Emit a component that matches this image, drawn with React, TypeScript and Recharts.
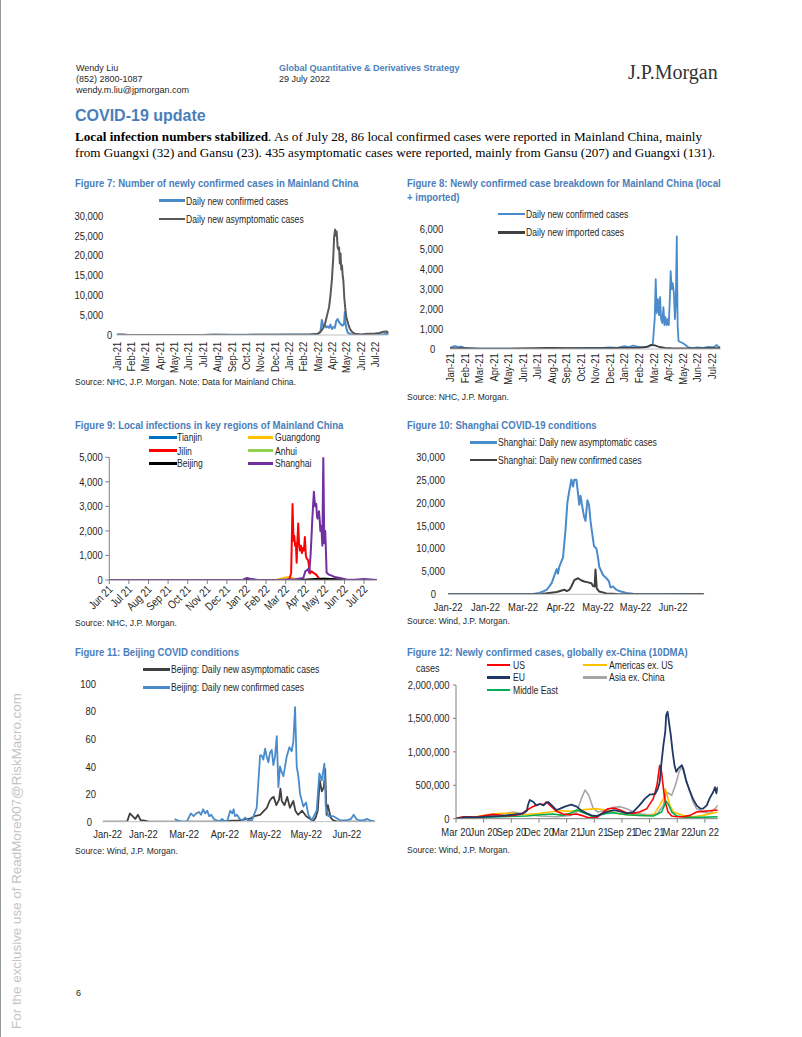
import React from "react";
import { LineChart, Line, XAxis, YAxis } from "recharts";

const SANS = "'Liberation Sans', Arial, Helvetica, sans-serif";
const SERIF = "'Liberation Serif', 'Times New Roman', serif";
const NARROW_SCALE = 0.82; // Arial Narrow look-alike: Liberation Sans squeezed horizontally
const TITLE_BLUE = "#4A7EBB";
const INK = "#1f1f1f";

// ---- shared tick labels ----
const monthTicks2122 = [0, 1, 2, 3, 4, 5, 6, 7, 8, 9, 10, 11, 12, 13, 14, 15, 16, 17, 18];
const monthLabels2122 = ["Jan-21", "Feb-21", "Mar-21", "Apr-21", "May-21", "Jun-21", "Jul-21", "Aug-21", "Sep-21", "Oct-21", "Nov-21", "Dec-21", "Jan-22", "Feb-22", "Mar-22", "Apr-22", "May-22", "Jun-22", "Jul-22"];
const fig9Ticks = [0, 1, 2, 3, 4, 5, 6, 7, 8, 9, 10, 11, 12, 13];
const fig9Labels = ["Jun 21", "Jul 21", "Aug 21", "Sep 21", "Oct 21", "Nov 21", "Dec 21", "Jan 22", "Feb 22", "Mar 22", "Apr 22", "May 22", "Jun 22", "Jul 22"];
const dayTicks = [0, 30, 60, 90, 120, 150, 180];
const dayLabels = ["Jan-22", "Jan-22", "Mar-22", "Apr-22", "May-22", "May-22", "Jun-22"];
const fig12Ticks = [0, 3, 6, 9, 12, 15, 18, 21, 24, 27];
const fig12Labels = ["Mar 20", "Jun 20", "Sep 20", "Dec 20", "Mar 21", "Jun 21", "Sep 21", "Dec 21", "Mar 22", "Jun 22"];

// ---- Figure 7 (x = months since Jan-21) ----
const fig7ConfX = [0, 0.3, 0.6, 1, 2, 3, 4, 5, 6, 6.7, 7, 8, 9, 9.5, 10, 11, 12, 12.5, 13, 13.5, 14, 14.2, 14.3, 14.4, 14.5, 14.6, 14.7, 14.8, 14.9, 15.0, 15.1, 15.2, 15.3, 15.4, 15.5, 15.6, 15.7, 15.8, 15.85, 15.9, 15.95, 16.0, 16.1, 16.3, 16.6, 17, 17.5, 18, 18.3, 18.6, 18.8, 18.95];
const fig7Conf = [150, 120, 60, 20, 20, 20, 20, 30, 30, 90, 60, 40, 40, 60, 50, 80, 150, 100, 120, 150, 200, 800, 3800, 2200, 2400, 1900, 2200, 1800, 2600, 1500, 2000, 1800, 3500, 4000, 3200, 2800, 2400, 2500, 3000, 5800, 3000, 1800, 600, 200, 100, 60, 80, 100, 150, 200, 300, 150];
const fig7AsymX = [0, 0.5, 1, 2, 3, 4, 5, 6, 6.7, 7, 8, 9, 9.5, 10, 11, 12, 13, 13.5, 14, 14.2, 14.4, 14.5, 14.6, 14.7, 14.8, 14.9, 15, 15.1, 15.15, 15.22, 15.28, 15.33, 15.4, 15.45, 15.5, 15.55, 15.6, 15.65, 15.7, 15.75, 15.8, 15.86, 15.92, 16, 16.08, 16.16, 16.26, 16.4, 16.6, 17, 17.5, 18, 18.3, 18.6, 18.8, 18.95];
const fig7Asym = [80, 40, 20, 10, 20, 20, 30, 30, 60, 40, 20, 20, 40, 50, 60, 80, 60, 100, 300, 800, 1800, 2500, 4000, 5500, 7000, 10000, 14000, 20000, 24500, 26500, 25000, 26000, 22000, 21500, 22000, 18000, 20500, 16500, 17500, 15000, 13500, 9500, 7000, 4500, 3500, 2500, 1500, 800, 300, 150, 300, 400, 500, 800, 900, 500];

// ---- Figure 8 (x = months since Jan-21) ----
const fig8ConfX = [0, 0.2, 0.35, 0.6, 0.8, 1, 2, 3, 4, 5, 6, 6.8, 7.2, 8, 9, 9.5, 10, 10.5, 11, 11.5, 12, 12.3, 12.6, 12.9, 13.3, 13.7, 13.95, 14.08, 14.15, 14.22, 14.3, 14.38, 14.45, 14.52, 14.6, 14.68, 14.75, 14.82, 14.9, 14.98, 15.05, 15.12, 15.18, 15.25, 15.32, 15.4, 15.47, 15.53, 15.6, 15.66, 15.72, 15.85, 16.0, 16.2, 16.4, 16.7, 17, 17.4, 17.8, 18.1, 18.35, 18.45, 18.6];
const fig8Conf = [50, 120, 150, 100, 120, 40, 20, 20, 20, 20, 20, 60, 40, 30, 30, 60, 50, 60, 80, 60, 150, 100, 170, 120, 80, 120, 250, 1500, 3500, 1800, 2500, 1700, 2600, 1500, 1300, 2100, 1200, 1600, 1200, 1500, 1200, 2500, 3900, 3000, 3300, 2800, 1500, 2200, 5650, 1200, 400, 350, 300, 200, 80, 40, 80, 60, 100, 80, 200, 120, 80];
const fig8ImpX = [0, 1, 2, 3, 4, 5, 6, 7, 8, 9, 10, 11, 12, 13, 13.5, 13.8, 14.1, 14.4, 14.8, 15.2, 16, 17, 18, 18.6];
const fig8Imp = [30, 40, 20, 20, 20, 30, 40, 50, 40, 40, 40, 40, 60, 60, 100, 200, 180, 100, 60, 40, 30, 30, 40, 40];

// ---- Figure 9 (x = months since Jun-21) ----
const fig9TianjinX = [0, 6.9, 7.0, 7.3, 7.6, 13.65];
const fig9Tianjin = [0, 0, 60, 30, 0, 0];
const fig9GuangdongX = [0, 8.5, 8.8, 9.0, 9.2, 9.4, 9.6, 10, 13.65];
const fig9Guangdong = [0, 0, 60, 100, 120, 60, 20, 0, 0];
const fig9JilinX = [0, 9.0, 9.2, 9.28, 9.35, 9.4, 9.44, 9.48, 9.52, 9.56, 9.6, 9.64, 9.68, 9.73, 9.78, 9.83, 9.88, 9.93, 9.98, 10.03, 10.07, 10.15, 10.24, 10.32, 10.4, 10.5, 10.58, 10.71, 11, 13.65];
const fig9Jilin = [0, 0, 50, 300, 3100, 1600, 1800, 1400, 1500, 700, 1600, 2300, 1500, 1200, 1400, 1100, 1300, 1200, 1750, 1000, 880, 800, 270, 350, 300, 250, 200, 50, 0, 0];
const fig9AnhuiX = [0, 10.5, 10.8, 11.0, 11.3, 11.5, 13.65];
const fig9Anhui = [0, 0, 40, 60, 30, 0, 0];
const fig9BeijingX = [0, 9.8, 10.1, 10.5, 10.9, 11.3, 11.6, 12, 13.65];
const fig9Beijing = [0, 0, 20, 40, 50, 40, 30, 0, 0];
const fig9ShanghaiX = [0, 6.8, 7.0, 7.2, 7.5, 8.5, 9.2, 9.5, 9.9, 10.0, 10.08, 10.15, 10.2, 10.27, 10.32, 10.36, 10.44, 10.48, 10.51, 10.56, 10.6, 10.63, 10.7, 10.74, 10.77, 10.82, 10.87, 10.92, 10.97, 11.02, 11.09, 11.2, 11.35, 11.5, 11.77, 12.1, 12.5, 13, 13.65];
const fig9Shanghai = [0, 0, 80, 40, 0, 0, 20, 30, 80, 350, 400, 450, 300, 1000, 1800, 2500, 3600, 3200, 3000, 3100, 2600, 2500, 2800, 2400, 2000, 2200, 1400, 5000, 1500, 2000, 300, 220, 180, 120, 80, 20, 10, 40, 0];

// ---- Figure 10 (x = days since 1 Jan 2022) ----
const fig10AsymX = [0, 40, 60, 68, 73, 76, 79, 81, 83, 85, 87, 88, 89, 90.5, 92, 93, 94, 95.5, 97, 98.7, 100, 101, 102.7, 104, 105, 106, 107.5, 108.8, 110, 111.5, 112.8, 114, 115.5, 116.8, 118.7, 120, 121, 124, 126.7, 128.8, 130, 132, 134.7, 137, 142.7, 148, 153, 170, 190, 204.5];
const fig10Asym = [0, 0, 10, 50, 300, 600, 1000, 1700, 2500, 4000, 5500, 4500, 6000, 7000, 8000, 11000, 14000, 20000, 22500, 25000, 23500, 25000, 25000, 22000, 19500, 21500, 19000, 17000, 16000, 20500, 19500, 16000, 13000, 10500, 10000, 8000, 6000, 4200, 3500, 2800, 1500, 1700, 1000, 700, 300, 100, 30, 20, 40, 50];
const fig10ConfX = [0, 60, 75, 81, 87, 93, 95, 97, 98.7, 101, 104, 107, 109, 112, 114.7, 116, 117.3, 118, 119, 121, 126.7, 135, 150, 180, 204.5];
const fig10Conf = [0, 0, 50, 300, 500, 1000, 700, 950, 1700, 3100, 3500, 3000, 2800, 2600, 2400, 1800, 1700, 5400, 1300, 600, 200, 80, 20, 30, 50];

// ---- Figure 11 (x = days since 1 Jan 2022) ----
const fig11AsymX = [0, 18, 20, 22, 24, 26, 28, 30, 34, 60, 80, 100, 108, 112, 116, 119, 121, 123, 124.5, 126, 128, 130, 131, 132, 134, 136, 138, 140.5, 142, 144, 147, 150, 153, 155, 157, 158.5, 160, 161.5, 163, 164, 165, 166, 168, 170, 173, 180, 200];
const fig11Asym = [0, 0, 6, 4, 2, 5, 1, 1, 0, 0, 0, 1, 2, 4, 5, 8, 10, 15, 17, 18, 12, 16, 24, 15, 12, 18, 10, 15, 8, 5, 8, 4, 2, 0, 3, 8, 30, 22, 25, 38, 5, 12, 3, 1, 0, 0, 0];
const fig11ConfX = [53, 55, 58, 62, 65, 67, 69, 71, 72.5, 74, 75.5, 77, 78.5, 80, 82, 84, 86, 88, 90, 92, 94, 95.5, 96.5, 97.5, 99, 101, 103, 105, 107, 110, 113.5, 116, 117.2, 118.4, 119.7, 120.9, 122.1, 123.3, 124.6, 125.8, 127, 128.3, 129.5, 130.7, 131.9, 133.2, 135.6, 137.6, 139.3, 140.5, 141.8, 143, 144.2, 145.5, 147.9, 149.9, 151.6, 154.1, 157.7, 159.7, 161.4, 163.4, 164.4, 166.3, 170, 175, 178, 180, 183, 185, 187, 189, 192, 195, 197, 200.7];
const fig11Conf = [2, 1, 0, 0, 6, 4, 6, 7, 5, 9, 6, 8, 4, 5, 2, 1, 0, 2, 0, 1, 8, 6, 9, 4, 5, 2, 1, 3, 1, 1, 10, 48, 48, 45, 53, 47, 43, 50, 52, 41, 47, 62, 25, 40, 36, 33, 47, 54, 51, 58, 83, 40, 33, 20, 11, 14, 5, 1, 8, 35, 30, 42, 11, 4, 4, 1, 1, 1, 2, 5, 2, 1, 1, 2, 1, 0];

// ---- Figure 12 (x = months since Mar-20) ----
const fig12EuX = [0, 1.0, 2.2, 3.3, 4.8, 6.2, 7.3, 7.7, 7.8, 8.0, 8.4, 8.7, 9.1, 9.5, 9.8, 10.0, 10.4, 10.9, 11.3, 11.8, 12.5, 13.1, 13.6, 14.2, 14.7, 15.3, 15.6, 16.3, 17.1, 17.8, 18.5, 19.2, 19.9, 20.5, 21.0, 21.6, 21.9, 22.1, 22.3, 22.5, 22.7, 22.8, 22.95, 23.1, 23.3, 23.5, 23.7, 23.9, 24.1, 24.5, 24.65, 25.0, 25.4, 25.7, 26.1, 26.5, 26.8, 27.2, 27.5, 27.9, 28.1, 28.25, 28.4];
const fig12Eu = [0, 25000, 20000, 30000, 40000, 60000, 80000, 120000, 200000, 280000, 250000, 200000, 220000, 200000, 240000, 250000, 200000, 130000, 150000, 180000, 210000, 180000, 120000, 80000, 50000, 40000, 60000, 100000, 130000, 110000, 80000, 100000, 200000, 300000, 360000, 370000, 450000, 550000, 850000, 1100000, 1300000, 1550000, 1600000, 1450000, 1250000, 1000000, 800000, 700000, 750000, 800000, 750000, 550000, 400000, 300000, 200000, 150000, 150000, 200000, 300000, 400000, 470000, 380000, 480000];
const fig12UsX = [0, 0.8, 2.2, 4, 5.5, 6.6, 7.1, 7.7, 8.2, 8.7, 9.1, 9.5, 9.8, 10.2, 10.6, 10.9, 11.6, 12.4, 13.1, 13.6, 14.2, 14.7, 15.3, 16, 16.5, 17.1, 17.8, 18.5, 19.2, 19.9, 20.7, 21.4, 21.8, 22.1, 22.3, 22.5, 22.7, 23.0, 23.4, 23.9, 24.6, 25.4, 26.1, 26.8, 27.5, 28.4];
const fig12Us = [5000, 30000, 25000, 65000, 40000, 55000, 70000, 130000, 170000, 200000, 220000, 210000, 250000, 200000, 150000, 110000, 70000, 60000, 70000, 50000, 20000, 15000, 20000, 100000, 150000, 160000, 130000, 90000, 80000, 100000, 150000, 300000, 500000, 800000, 700000, 450000, 250000, 100000, 40000, 30000, 30000, 50000, 100000, 110000, 120000, 130000];
const fig12AmX = [0, 1.5, 3.3, 4.8, 6.2, 7.3, 9.1, 10.2, 11.3, 12.4, 14.2, 15.3, 16.3, 17.4, 18.5, 19.9, 21.4, 22.1, 22.5, 22.7, 22.9, 23.2, 23.6, 24.6, 25.7, 26.8, 27.7, 28.4];
const fig12Am = [0, 10000, 60000, 80000, 80000, 60000, 80000, 100000, 120000, 110000, 140000, 150000, 130000, 80000, 60000, 50000, 50000, 200000, 300000, 450000, 350000, 200000, 100000, 50000, 30000, 50000, 80000, 100000];
const fig12AsiaX = [0, 2, 4.8, 6.2, 7.7, 9.1, 10.9, 12.4, 13.1, 13.6, 14.0, 14.4, 14.9, 15.4, 16.3, 17.2, 17.8, 18.5, 19.6, 20.7, 21.8, 22.5, 22.8, 23.4, 23.8, 24.2, 24.5, 24.8, 25.4, 25.7, 26.1, 26.8, 27.5, 28.1, 28.4];
const fig12Asia = [5000, 20000, 60000, 100000, 60000, 40000, 30000, 50000, 100000, 300000, 430000, 350000, 150000, 100000, 130000, 170000, 180000, 150000, 80000, 60000, 70000, 200000, 400000, 350000, 500000, 700000, 780000, 650000, 400000, 250000, 150000, 100000, 80000, 150000, 200000];
const fig12MeX = [0, 1.0, 2.2, 4.8, 7.7, 9.1, 10.5, 11.6, 12.4, 13.1, 13.6, 14.4, 14.9, 16.3, 17.1, 18.5, 19.9, 21.4, 22.3, 22.8, 23.1, 23.4, 24.0, 25.0, 26.5, 28.4];
const fig12Me = [0, 25000, 20000, 30000, 40000, 60000, 70000, 50000, 80000, 130000, 100000, 60000, 30000, 80000, 90000, 60000, 50000, 40000, 100000, 260000, 200000, 100000, 40000, 20000, 20000, 30000];

const pts = (xs: number[], ys: number[]) => xs.map((x, i) => ({ x, y: ys[i] ?? 0 }));
const fmt = (v: number) => v.toLocaleString("en-US");

type Series = { name: string; color: string; xs: number[]; ys: number[]; w?: number };

type PanelProps = {
  left: number; top: number; width: number; height: number;
  margin: { top: number; right: number; bottom: number; left: number };
  yWidth: number; xHeight: number;
  xDomain: [number, number]; xTicks: number[]; xLabels: string[]; xKind: "v" | "d" | "h";
  xTickSize: number; xTickMargin: number; xTickLine?: boolean; xAxisColor?: string; firstShift?: number;
  yDomain: [number, number]; yTicks: number[]; yTickSize: number; yTickMargin: number; yAxisShow?: boolean; zeroShift?: number;
  series: Series[];
};

const tickText = { fontSize: 11.5, fontFamily: SANS, fill: INK };

function Panel(p: PanelProps) {
  const xTick = (t: any) => {
    const lbl = p.xLabels[p.xTicks.indexOf(t.payload.value)] ?? "";
    if (p.xKind === "v")
      return (
        <g transform={`translate(${t.x},${t.y}) rotate(-90) scale(${NARROW_SCALE},1)`}>
          <text textAnchor="end" dy="0.35em" {...tickText}>{lbl}</text>
        </g>
      );
    if (p.xKind === "d")
      return (
        <g transform={`translate(${t.x},${t.y}) rotate(-45) scale(${NARROW_SCALE},1)`}>
          <text textAnchor="end" dy="0.5em" {...tickText}>{lbl}</text>
        </g>
      );
    const sx = t.index === 0 ? p.firstShift ?? 0 : 0;
    return (
      <g transform={`translate(${t.x + sx},${t.y}) scale(${NARROW_SCALE},1)`}>
        <text textAnchor="middle" dy="0.71em" {...tickText}>{lbl}</text>
      </g>
    );
  };
  const yTick = (t: any) => (
    <g transform={`translate(${t.x + (t.payload.value === 0 ? p.zeroShift ?? 0 : 0)},${t.y}) scale(${NARROW_SCALE},1)`}>
      <text dy="0.35em" textAnchor="end" {...tickText}>{fmt(t.payload.value)}</text>
    </g>
  );
  return (
    <div style={{ position: "absolute", left: p.left, top: p.top }}>
      <LineChart width={p.width} height={p.height} margin={p.margin}>
        <XAxis dataKey="x" type="number" domain={p.xDomain} ticks={p.xTicks} interval={0} allowDataOverflow
          height={p.xHeight} tick={xTick} tickSize={p.xTickSize} tickMargin={p.xTickMargin}
          tickLine={p.xTickLine ? { stroke: "#808080" } : false}
          axisLine={{ stroke: p.xAxisColor ?? "#bfbfbf" }} />
        <YAxis type="number" domain={p.yDomain} ticks={p.yTicks} interval={0} allowDataOverflow width={p.yWidth}
          tick={yTick} tickSize={p.yTickSize} tickMargin={p.yTickMargin}
          tickLine={p.yAxisShow ? { stroke: "#808080" } : false}
          axisLine={p.yAxisShow ? { stroke: "#808080" } : false} />
        {p.series.map((s) => (
          <Line key={s.name} data={pts(s.xs, s.ys)} dataKey="y" name={s.name} type="linear" dot={false} activeDot={false}
            stroke={s.color} strokeWidth={s.w ?? 2} isAnimationActive={false} strokeLinejoin="round" />
        ))}
      </LineChart>
    </div>
  );
}

function Txt({ x, y, size, children, color = INK, family = SANS, weight = 400, narrow = false }: any) {
  const h = size * 1.2;
  return (
    <div style={{
      position: "absolute", left: x, top: y - h / 2, lineHeight: `${h}px`, fontSize: size, fontFamily: family, color,
      fontWeight: weight, whiteSpace: "nowrap", transform: narrow ? `scaleX(${NARROW_SCALE})` : undefined, transformOrigin: "left center",
    }}>
      {children}
    </div>
  );
}

function Key({ x, y, len, color, label, gap = 1 }: any) {
  return (
    <div style={{ position: "absolute", left: x, top: y - 7, height: 14, display: "flex", alignItems: "center", whiteSpace: "nowrap" }}>
      <span style={{ display: "inline-block", width: len, height: 2.5, background: color, marginRight: gap }} />
      <span style={{ display: "inline-block", fontSize: 10.5, fontFamily: SANS, color: INK, transform: `scaleX(${NARROW_SCALE})`, transformOrigin: "left center" }}>{label}</span>
    </div>
  );
}

const C_BLUE = "#4A8BCB";
const C_GREY = "#595959";

function Title({ x, y, children }: any) {
  return <Txt x={x} y={y} size={11.7} weight={700} color={TITLE_BLUE} narrow>{children}</Txt>;
}
function Source({ x, y, children }: any) {
  return <Txt x={x} y={y} size={8.5}>{children}</Txt>;
}

export default function App() {
  return (
    <div style={{ position: "absolute", left: 0, top: 0, width: 802, height: 1037, background: "#fff", overflow: "hidden" }}>
      <div style={{ position: "absolute", left: 0, top: 0, width: 1, height: 1037, background: "#9a9a9a" }} />

      {/* header */}
      <Txt x={76} y={68} size={9}>Wendy Liu</Txt>
      <Txt x={76} y={79} size={9}>(852) 2800-1087</Txt>
      <Txt x={76} y={90} size={9}>wendy.m.liu@jpmorgan.com</Txt>
      <Txt x={279} y={68} size={9} weight={700} color={TITLE_BLUE}>Global Quantitative &amp; Derivatives Strategy</Txt>
      <Txt x={279} y={79} size={9}>29 July 2022</Txt>
      <Txt x={628} y={72} size={20} family={SERIF} color="#333">J.P.Morgan</Txt>
      <Txt x={75} y={116} size={16} weight={700} color={TITLE_BLUE}>COVID-19 update</Txt>
      <Txt x={75} y={137} size={13.15} family={SERIF} color="#000">
        <b>Local infection numbers stabilized</b>. As of July 28, 86 local confirmed cases were reported in Mainland China, mainly
      </Txt>
      <Txt x={75} y={153} size={13.15} family={SERIF} color="#000">
        from Guangxi (32) and Gansu (23). 435 asymptomatic cases were reported, mainly from Gansu (207) and Guangxi (131).
      </Txt>

      {/* Figure 7 */}
      <Title x={75} y={183.5}>Figure 7: Number of newly confirmed cases in Mainland China</Title>
      <Key x={159} y={200.7} len={26} color={C_BLUE} label="Daily new confirmed cases" />
      <Key x={159} y={219} len={26} color={C_GREY} label="Daily new asymptomatic cases" />
      <Panel left={60} top={200} width={330} height={180} margin={{ top: 15.7, right: 1.4, bottom: 5, left: 0 }}
        yWidth={56.7} xHeight={40} xDomain={[0, 18.95]} xTicks={monthTicks2122} xLabels={monthLabels2122} xKind="v"
        xTickSize={6} xTickMargin={0.7} yDomain={[0, 30000]} yTicks={[0, 5000, 10000, 15000, 20000, 25000, 30000]}
        yTickSize={6} yTickMargin={7.4} zeroShift={9}
        series={[
          { name: "Daily new confirmed cases", color: C_BLUE, xs: fig7ConfX, ys: fig7Conf },
          { name: "Daily new asymptomatic cases", color: C_GREY, xs: fig7AsymX, ys: fig7Asym },
        ]} />
      <Source x={75} y={381.7}>Source: NHC, J.P. Morgan. Note: Data for Mainland China.</Source>

      {/* Figure 8 */}
      <Title x={407} y={183.3}>Figure 8: Newly confirmed case breakdown for Mainland China (local</Title>
      <Title x={407} y={196.7}>+ imported)</Title>
      <Key x={498} y={214} len={27} color={C_BLUE} label="Daily new confirmed cases" />
      <Key x={498} y={232.3} len={27} color="#404040" label="Daily new imported cases" />
      <Panel left={390} top={215} width={332} height={180} margin={{ top: 14.3, right: 1.6, bottom: 6, left: 0 }}
        yWidth={60} xHeight={40} xDomain={[0, 18.6]} xTicks={monthTicks2122} xLabels={monthLabels2122} xKind="v"
        xTickSize={4} xTickMargin={0.3} yDomain={[0, 6000]} yTicks={[0, 1000, 2000, 3000, 4000, 5000, 6000]}
        yTickSize={6} yTickMargin={0.7} zeroShift={-8}
        series={[
          { name: "Daily new confirmed cases", color: C_BLUE, xs: fig8ConfX, ys: fig8Conf, w: 1.8 },
          { name: "Daily new imported cases", color: "#404040", xs: fig8ImpX, ys: fig8Imp, w: 1.8 },
        ]} />
      <Source x={407} y={396.7}>Source: NHC, J.P. Morgan.</Source>

      {/* Figure 9 */}
      <Title x={75} y={424.7}>Figure 9: Local infections in key regions of Mainland China</Title>
      <Key x={149.3} y={437.3} len={27.4} gap={0.6} color="#0070C0" label="Tianjin" />
      <Key x={248.3} y={437.3} len={25} gap={1.7} color="#FFC000" label="Guangdong" />
      <Key x={149.3} y={450.7} len={27.4} gap={0.6} color="#FF0000" label="Jilin" />
      <Key x={248.3} y={450.7} len={25} gap={1.7} color="#92D050" label="Anhui" />
      <Key x={149.3} y={463.3} len={27.4} gap={0.6} color="#000000" label="Beijing" />
      <Key x={248.3} y={463.3} len={25} gap={1.7} color="#7030A0" label="Shanghai" />
      <Panel left={60} top={440} width={320} height={185} margin={{ top: 17.3, right: 3.2, bottom: 10, left: 0 }}
        yWidth={49.3} xHeight={35} xDomain={[0, 13.65]} xTicks={fig9Ticks} xLabels={fig9Labels} xKind="d"
        xTickSize={4} xTickMargin={2} xTickLine xAxisColor="#808080" yDomain={[0, 5000]} yTicks={[0, 1000, 2000, 3000, 4000, 5000]}
        yTickSize={4} yTickMargin={2.6} yAxisShow zeroShift={0}
        series={[
          { name: "Tianjin", color: "#0070C0", xs: fig9TianjinX, ys: fig9Tianjin },
          { name: "Guangdong", color: "#FFC000", xs: fig9GuangdongX, ys: fig9Guangdong },
          { name: "Jilin", color: "#FF0000", xs: fig9JilinX, ys: fig9Jilin },
          { name: "Anhui", color: "#92D050", xs: fig9AnhuiX, ys: fig9Anhui },
          { name: "Beijing", color: "#000000", xs: fig9BeijingX, ys: fig9Beijing },
          { name: "Shanghai", color: "#7030A0", xs: fig9ShanghaiX, ys: fig9Shanghai },
        ]} />
      <Source x={75} y={623}>Source: NHC, J.P. Morgan.</Source>

      {/* Figure 10 */}
      <Title x={407} y={425}>Figure 10: Shanghai COVID-19 conditions</Title>
      <Key x={470} y={442.3} len={26.7} color={C_BLUE} label="Shanghai: Daily new asymptomatic cases" />
      <Key x={470} y={460} len={26.7} color="#404040" label="Shanghai: Daily new confirmed cases" />
      <Panel left={390} top={440} width={320} height={180} margin={{ top: 16.7, right: 5.75, bottom: 5.7, left: 0 }}
        yWidth={58} xHeight={20} xDomain={[0, 205]} xTicks={dayTicks} xLabels={dayLabels} xKind="h"
        xTickSize={6} xTickMargin={3} yDomain={[0, 30000]} yTicks={[0, 5000, 10000, 15000, 20000, 25000, 30000]}
        yTickSize={3} yTickMargin={0} zeroShift={-9}
        series={[
          { name: "Shanghai: Daily new asymptomatic cases", color: C_BLUE, xs: fig10AsymX, ys: fig10Asym },
          { name: "Shanghai: Daily new confirmed cases", color: "#404040", xs: fig10ConfX, ys: fig10Conf },
        ]} />
      <Source x={407} y={620.7}>Source: Wind, J.P. Morgan.</Source>

      {/* Figure 11 */}
      <Title x={75} y={652.3}>Figure 11: Beijing COVID conditions</Title>
      <Key x={143} y={669.3} len={27} color="#404040" label="Beijing: Daily new asymptomatic cases" />
      <Key x={143} y={687.3} len={27} color={C_BLUE} label="Beijing: Daily new confirmed cases" />
      <Panel left={50} top={670} width={330} height={175} margin={{ top: 13.7, right: 4.6, bottom: 3.3, left: 0 }}
        yWidth={52.7} xHeight={20} xDomain={[0, 201]} xTicks={dayTicks} xLabels={dayLabels} xKind="h" firstShift={5}
        xTickSize={6} xTickMargin={2} yDomain={[0, 100]} yTicks={[0, 20, 40, 60, 80, 100]}
        yTickSize={6} yTickMargin={0.7} zeroShift={-4}
        series={[
          { name: "Beijing: Daily new asymptomatic cases", color: "#404040", xs: fig11AsymX, ys: fig11Asym, w: 1.8 },
          { name: "Beijing: Daily new confirmed cases", color: C_BLUE, xs: fig11ConfX, ys: fig11Conf, w: 1.8 },
        ]} />
      <Source x={75} y={850.7}>Source: Wind, J.P. Morgan.</Source>

      {/* Figure 12 */}
      <Title x={407} y={652}>Figure 12: Newly confirmed cases, globally ex-China (10DMA)</Title>
      <Txt x={416} y={669} size={11} narrow>cases</Txt>
      <Key x={487} y={665} len={23} gap={3} color="#FF0000" label="US" />
      <Key x={583} y={665} len={24} gap={2} color="#FFC000" label="Americas ex. US" />
      <Key x={487} y={677.3} len={23} gap={3} color="#1F3864" label="EU" />
      <Key x={583} y={677.3} len={24} gap={2} color="#A6A6A6" label="Asia ex. China" />
      <Key x={487} y={690} len={23} gap={3} color="#00B050" label="Middle East" />
      <Panel left={390} top={670} width={332} height={175} margin={{ top: 15, right: 4.2, bottom: 6.3, left: 0 }}
        yWidth={66} xHeight={20} xDomain={[0, 28.4]} xTicks={fig12Ticks} xLabels={fig12Labels} xKind="h"
        xTickSize={4} xTickMargin={5} xTickLine xAxisColor="#808080" yDomain={[0, 2000000]} yTicks={[0, 500000, 1000000, 1500000, 2000000]}
        yTickSize={3} yTickMargin={3.4} yAxisShow zeroShift={0}
        series={[
          { name: "Asia ex. China", color: "#A6A6A6", xs: fig12AsiaX, ys: fig12Asia, w: 1.6 },
          { name: "Americas ex. US", color: "#FFC000", xs: fig12AmX, ys: fig12Am, w: 1.6 },
          { name: "Middle East", color: "#00B050", xs: fig12MeX, ys: fig12Me, w: 1.6 },
          { name: "US", color: "#FF0000", xs: fig12UsX, ys: fig12Us, w: 1.6 },
          { name: "EU", color: "#1F3864", xs: fig12EuX, ys: fig12Eu, w: 1.8 },
        ]} />
      <Source x={407} y={850}>Source: Wind, J.P. Morgan.</Source>

      <Txt x={76} y={993} size={9}>6</Txt>
      <div style={{ position: "absolute", left: 16, top: 861, transform: "translate(-50%, -50%) rotate(-90deg)", whiteSpace: "nowrap", fontSize: 13.4, fontFamily: SANS, color: "#c4c4c4" }}>
        For the exclusive use of ReadMore007@RiskMacro.com
      </div>
    </div>
  );
}
